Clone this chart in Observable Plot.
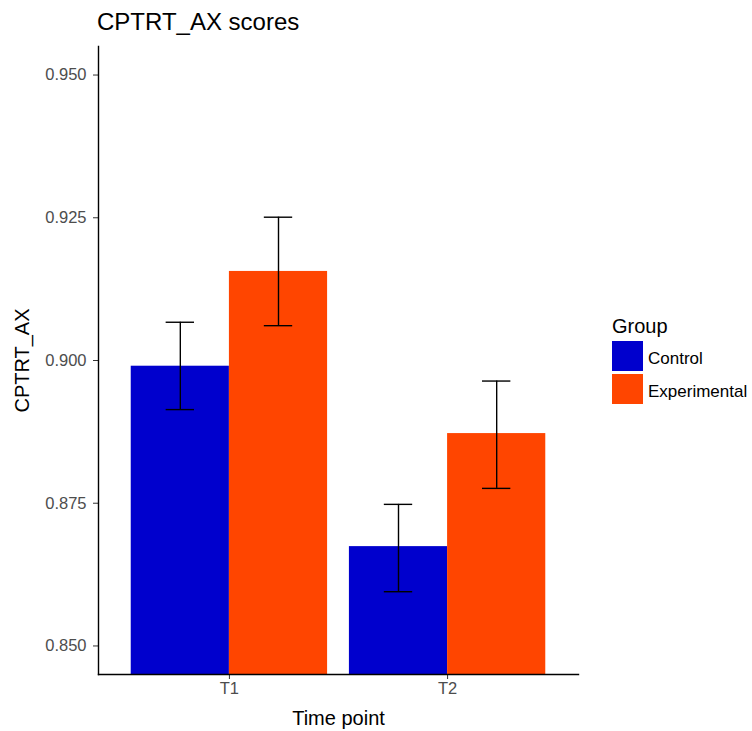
<!DOCTYPE html>
<html>
<head>
<meta charset="utf-8">
<script src="https://cdn.jsdelivr.net/npm/d3@7"></script>
<script src="https://cdn.jsdelivr.net/npm/@observablehq/plot@0.6"></script>
<style>
  body { margin: 0; background: #fff; font-family: "Liberation Sans", Arial, sans-serif; }
  #wrap { position: relative; width: 752px; height: 731px; overflow: hidden; }
  #title { height: 32px; padding-top: 4px; padding-left: 97px; font-size: 24px; line-height: 36px; color: #000; white-space: nowrap; }
  #legend { position: absolute; left: 612px; top: 0; }
  .lg-title { position: absolute; left: 0; top: 315px; font-size: 20px; color: #000; white-space: nowrap; }
  .lg-key { position: absolute; left: 0; width: 31px; height: 30px; }
  .lg-text { position: absolute; left: 36px; font-size: 17px; color: #000; white-space: nowrap; }
  svg g[aria-label="x-axis tick label"] text, svg g[aria-label="y-axis tick label"] text { fill: #4d4d4d; }
</style>
</head>
<body>
<div id="wrap">
  <div id="title"></div>
  <div id="chart"></div>
  <div id="legend"></div>
</div>
<script>
const chartTitle = "CPTRT_AX scores";
const xLabel = "Time point";
const yLabel = "CPTRT_AX";
const legendTitle = "Group";
const times = ["T1", "T2"];
const groups = ["Control", "Experimental"];
const colors = ["#0000CD", "#FF4500"];
const controlMean = [0.8990, 0.8674];
const controlLow = [0.8914, 0.8595];
const controlHigh = [0.9067, 0.8748];
const expMean = [0.9156, 0.8872];
const expLow = [0.9061, 0.8776];
const expHigh = [0.9251, 0.8964];
const yTicks = [0.850, 0.875, 0.900, 0.925, 0.950];
const yDomain = [0.845, 0.955];

const means = [controlMean, expMean];
const lows = [controlLow, expLow];
const highs = [controlHigh, expHigh];

const dodge = 0.45;
const capHalf = 0.065;
const rows = [];
times.forEach((t, ti) => {
  groups.forEach((g, gi) => {
    const c = ti + 1 + (gi - 0.5) * dodge;
    rows.push({time: t, group: g, mean: means[gi][ti], lo: lows[gi][ti], hi: highs[gi][ti],
               c, x1: c - dodge / 2, x2: c + dodge / 2, cx1: c - capHalf, cx2: c + capHalf});
  });
});

document.getElementById("title").textContent = chartTitle;

const plot = Plot.plot({
  width: 752,
  height: 695,
  marginLeft: 98,
  marginRight: 174,
  marginTop: 10,
  marginBottom: 57,
  style: {fontFamily: "Liberation Sans, Arial, sans-serif", fontSize: "16px", background: "#fff", color: "#000"},
  x: {domain: [0.4, 2.6], axis: null},
  y: {domain: yDomain, axis: null},
  color: {domain: groups, range: colors},
  marks: [
    Plot.rectY(rows, {x1: "x1", x2: "x2", y1: 0, y2: "mean", fill: "group", clip: true}),
    Plot.ruleX(rows, {x: "c", y1: "lo", y2: "hi", stroke: "#000", strokeWidth: 1.4}),
    Plot.ruleY(rows, {y: "hi", x1: "cx1", x2: "cx2", stroke: "#000", strokeWidth: 1.4}),
    Plot.ruleY(rows, {y: "lo", x1: "cx1", x2: "cx2", stroke: "#000", strokeWidth: 1.4}),
    Plot.axisY({ticks: yTicks, tickFormat: d3.format(".3f"), tickSize: 5, tickPadding: 7, fontSize: 16.5, stroke: "#333", label: null}),
    Plot.axisX({ticks: [1, 2], tickFormat: d => times[d - 1], tickSize: 5, tickPadding: 3, fontSize: 16.5, stroke: "#333", label: null}),
    Plot.frame({anchor: "left", stroke: "#000", strokeWidth: 1.4}),
    Plot.frame({anchor: "bottom", stroke: "#000", strokeWidth: 1.4}),
    Plot.text([xLabel], {text: d => d, frameAnchor: "bottom", dy: 44, fontSize: 20, fill: "#000", lineAnchor: "middle", textAnchor: "middle"}),
    Plot.text([yLabel], {text: d => d, frameAnchor: "left", dx: -76, rotate: -90, fontSize: 20, fill: "#000", lineAnchor: "middle", textAnchor: "middle"})
  ]
});
document.getElementById("chart").appendChild(plot);

const legend = document.getElementById("legend");
const lt = document.createElement("div");
lt.className = "lg-title";
lt.textContent = legendTitle;
legend.appendChild(lt);
groups.forEach((g, i) => {
  const key = document.createElement("div");
  key.className = "lg-key";
  key.style.top = (341 + i * 33) + "px";
  key.style.background = colors[i];
  legend.appendChild(key);
  const tx = document.createElement("div");
  tx.className = "lg-text";
  tx.style.top = (344 + i * 33) + "px";
  tx.style.lineHeight = "30px";
  tx.textContent = g;
  legend.appendChild(tx);
});
</script>
</body>
</html>
